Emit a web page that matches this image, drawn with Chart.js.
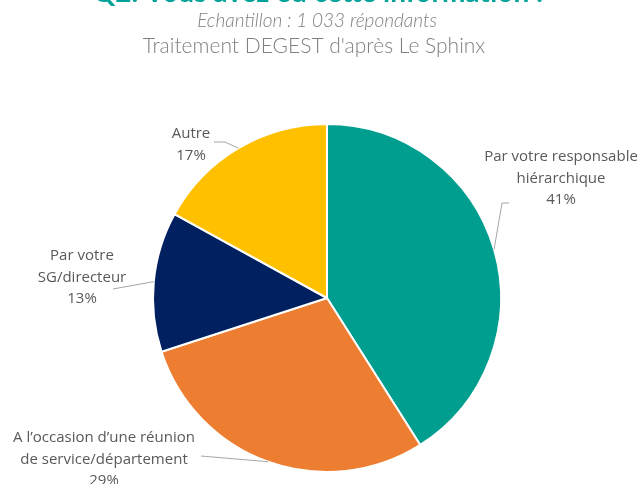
<!DOCTYPE html>
<html>
<head>
<meta charset="utf-8">
<script src="https://cdn.jsdelivr.net/npm/chart.js@4"></script>
<style>
html,body{margin:0;padding:0;background:#fff;}
#wrap{width:641px;height:484px;position:relative;}
</style>
</head>
<body>
<div id="wrap"><canvas id="c" width="641" height="484"></canvas></div>
<script>
const titleText = "Q2. Vous avez eu cette information :";
const subtitle1 = "Echantillon : 1 033 répondants";
const subtitle2 = "Traitement DEGEST d'après Le Sphinx";
const categories = ["Par votre responsable hiérarchique", "A l’occasion d’une réunion de service/département", "Par votre SG/directeur", "Autre"];
const labelLines = [["Par votre responsable", "hiérarchique"], ["A l’occasion d’une réunion", "de service/département"], ["Par votre", "SG/directeur"], ["Autre"]];
const values = [41, 29, 13, 17];
const colors = ["#009E8F", "#ED7D31", "#002060", "#FFC000"];

// label layout (text block center x, first line y) and leader line points
const labelLayout = [
  {x: 561, y: 157, lead: [[509, 203], [502, 203]]},
  {x: 104, y: 438, lead: [[201, 456]]},
  {x: 82, y: 256, lead: [[113, 289]]},
  {x: 191, y: 134, lead: [[214, 142], [225, 142]]}
];

const headerPlugin = {
  id: 'header',
  afterDraw(chart) {
    const ctx = chart.ctx;
    ctx.save();
    ctx.textAlign = 'center';
    ctx.textBaseline = 'alphabetic';
    ctx.fillStyle = '#00A39A';
    ctx.font = 'bold 28px "Lato", sans-serif';
    ctx.fillText(titleText, 318, 2);
    ctx.fillStyle = '#808080';
    ctx.font = 'italic 300 19px "Lato", sans-serif';
    ctx.fillText(subtitle1, 317, 27);
    ctx.font = '300 21px "Lato", sans-serif';
    ctx.fillText(subtitle2, 314, 53);
    ctx.restore();
  }
};

const labelPlugin = {
  id: 'pieLabels',
  afterDatasetsDraw(chart) {
    const ctx = chart.ctx;
    const meta = chart.getDatasetMeta(0);
    ctx.save();
    meta.data.forEach((arc, i) => {
      const p = arc.getProps(['x', 'y', 'startAngle', 'endAngle', 'outerRadius'], true);
      const mid = (p.startAngle + p.endAngle) / 2;
      const ax = p.x + Math.cos(mid) * p.outerRadius;
      const ay = p.y + Math.sin(mid) * p.outerRadius;
      const L = labelLayout[i];
      ctx.strokeStyle = '#A6A6A6';
      ctx.lineWidth = 1;
      ctx.beginPath();
      ctx.moveTo(ax, ay);
      for (let k = L.lead.length - 1; k >= 0; k--) ctx.lineTo(L.lead[k][0], L.lead[k][1]);
      ctx.stroke();
      ctx.fillStyle = '#595959';
      ctx.font = '15px "Open Sans", sans-serif';
      ctx.textAlign = 'center';
      ctx.textBaseline = 'middle';
      const lines = labelLines[i].concat([values[i] + '%']);
      lines.forEach((t, j) => ctx.fillText(t, L.x, L.y + j * 21.5));
    });
    ctx.restore();
  }
};

new Chart(document.getElementById('c'), {
  type: 'pie',
  data: {
    labels: categories,
    datasets: [{
      data: values,
      backgroundColor: colors,
      borderColor: '#FFFFFF',
      borderWidth: 2
    }]
  },
  options: {
    responsive: false,
    animation: false,
    layout: {padding: {top: 123, bottom: 11, left: 100, right: 87}},
    plugins: {
      legend: {display: false},
      tooltip: {enabled: false},
      title: {display: false}
    }
  },
  plugins: [headerPlugin, labelPlugin]
});
</script>
</body>
</html>
